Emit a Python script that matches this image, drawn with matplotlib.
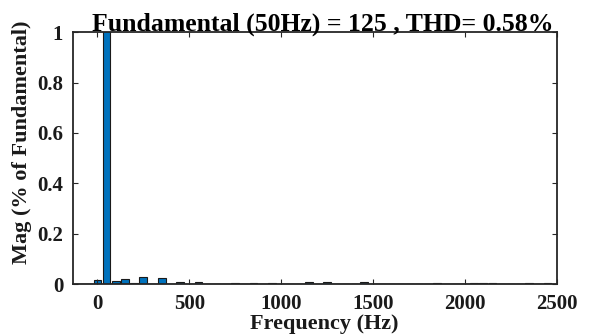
import matplotlib
matplotlib.use("Agg")
import matplotlib.pyplot as plt

# Harmonic spectrum, magnitude in % of the fundamental (50 Hz bins)
freqs_hz = [0, 50, 100, 150, 200, 250, 300, 350, 400, 450, 500, 550, 600, 650,
            700, 750, 800, 850, 900, 950, 1000, 1050, 1100, 1150, 1200, 1250,
            1300, 1350, 1400, 1450, 1500, 1550, 1600, 1650, 1700, 1750, 1800,
            1850, 1900, 1950, 2000, 2050, 2100, 2150, 2200, 2250, 2300, 2350,
            2400, 2450]
mag_pct = [0.017, 100.0, 0.012, 0.020, 0.004, 0.030, 0.002, 0.026, 0.002, 0.008,
           0.002, 0.008, 0.001, 0.002, 0.001, 0.005, 0.001, 0.005, 0.001, 0.005,
           0.001, 0.002, 0.001, 0.007, 0.001, 0.007, 0.001, 0.002, 0.001, 0.007,
           0.001, 0.002, 0.001, 0.002, 0.001, 0.002, 0.001, 0.006, 0.001, 0.002,
           0.001, 0.003, 0.004, 0.004, 0.002, 0.001, 0.001, 0.003, 0.001, 0.003]
x_ticks = [0, 500, 1000, 1500, 2000, 2500]
y_ticks = [0, 0.2, 0.4, 0.6, 0.8, 1]
y_tick_labels = ["0", "0.2", "0.4", "0.6", "0.8", "1"]
title_text = "Fundamental (50Hz) = 125 , THD= 0.58%"

plt.rcParams["font.family"] = ["Liberation Serif", "DejaVu Serif"]
plt.rcParams["font.weight"] = "bold"

fig = plt.figure(figsize=(5.98, 3.35), dpi=100)
ax = fig.add_axes([0.122, 0.152, 0.809, 0.752])

ax.bar(freqs_hz, mag_pct, width=42, color="#0072BD", edgecolor="#1a1a1a",
       linewidth=0.8)
ax.axhline(0, color="#262626", linewidth=1.0)

ax.set_xlim(-133, 2500)
ax.set_ylim(0, 1)
ax.set_xticks(x_ticks)
ax.set_yticks(y_ticks)
ax.set_xticklabels([str(t) for t in x_ticks])
ax.set_yticklabels(y_tick_labels)
ax.tick_params(direction="in", top=True, right=True, length=3.5, width=0.8,
               labelsize=15, colors="#262626")
ax.tick_params(axis="x", pad=7)
ax.tick_params(axis="y", pad=7)
for lab in ax.get_xticklabels() + ax.get_yticklabels():
    lab.set_fontweight("bold")
    lab.set_color("#1a1a1a")
for sp in ax.spines.values():
    sp.set_linewidth(1.3)
    sp.set_color("#262626")

ax.set_xlabel("Frequency (Hz)", fontsize=16, fontweight="bold",
              color="#1a1a1a", labelpad=0)
ax.xaxis.label.set_x(0.52)
ax.set_ylabel("Mag (% of Fundamental)", fontsize=16, fontweight="bold",
              color="#1a1a1a", labelpad=4)
ax.yaxis.label.set_y(0.563)
ax.set_title(title_text, fontsize=18.5, fontweight="bold", color="#000000",
             pad=1, x=0.517)

fig.savefig("out.png", dpi=100)
